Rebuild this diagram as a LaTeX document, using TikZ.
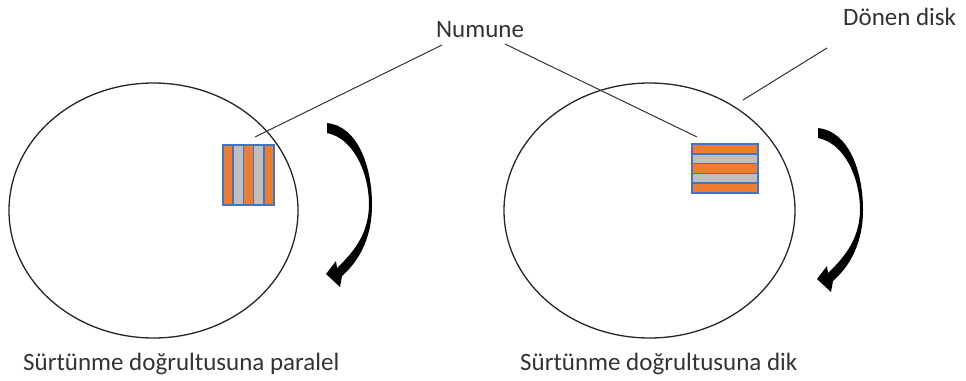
\documentclass[tikz,border=0pt]{standalone}
\usepackage{fontspec}
\setmainfont{Carlito}
\begin{document}
\begin{tikzpicture}[x=1pt,y=-1pt,
  lbl/.style={font=\fontsize{25}{28}\selectfont, text=black!80, inner sep=0pt},
  disk/.style={draw=black!85, line width=1.3pt},
  leader/.style={draw=black!80, line width=1pt},
  stripeO/.style={fill={rgb,255:red,237;green,125;blue,49}, draw={rgb,255:red,68;green,114;blue,196}, line width=1.5pt},
  stripeG/.style={fill={rgb,255:red,191;green,191;blue,191}, draw={rgb,255:red,68;green,114;blue,196}, line width=1.5pt},
  rotarrow/.style={fill=black, draw=none}
]
\useasboundingbox (0,0) rectangle (966,380);

% disks
\draw[disk] (153.5,210.5) ellipse [x radius=144.5, y radius=127.5];
\draw[disk] (649.5,210.5) ellipse [x radius=145.5, y radius=127.5];

% left sample (vertical stripes)
\foreach \i/\s in {0/stripeO,1/stripeG,2/stripeO,3/stripeG,4/stripeO}{
  \path[\s] ({223+\i*10.2},145) rectangle ({223+(\i+1)*10.2},205);
}
% right sample (horizontal stripes)
\foreach \i/\s in {0/stripeO,1/stripeG,2/stripeO,3/stripeG,4/stripeO}{
  \path[\s] (692,{144+\i*9.8}) rectangle (758,{144+(\i+1)*9.8});
}

% curved rotation arrows
\foreach \dx/\dy in {0/0,491/5}{
\begin{scope}[shift={(\dx,\dy)}]
\fill[rotarrow] (327,123) .. controls (357,126) and (372,165) .. (372,205)
  .. controls (372,238) and (359,261) .. (342,276)
  -- (340,287) -- (326,274) -- (336,261) -- (337,268)
  .. controls (356,250) and (368.5,232) .. (369,205)
  .. controls (369,172) and (353,138) .. (327,133) -- cycle;
\end{scope}
}

% labels
\node[lbl] (numune) at (480,30) {Numune};
\node[lbl, anchor=west] (donen) at (843,17) {Dönen disk};
\node[lbl, anchor=west] (par) at (23,364) {Sürtünme doğrultusuna paralel};
\node[lbl, anchor=west] (dik) at (520,364) {Sürtünme doğrultusuna dik};

% leader ends
\coordinate (nl) at (442,45);
\coordinate (nr) at (505,44);
\coordinate (sl) at (255,137);
\coordinate (sr) at (697,137);
\coordinate (dl) at (827,48);
\coordinate (de) at (743,100);

\draw[leader] (nl) -- (sl);
\draw[leader] (nr) -- (sr);
\draw[leader] (dl) -- (de);
\end{tikzpicture}
\end{document}
